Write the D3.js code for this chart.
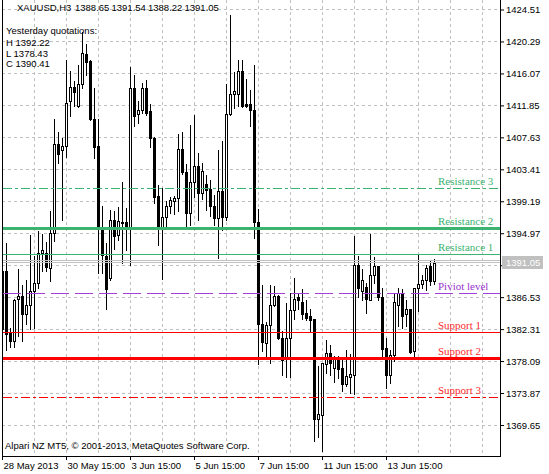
<!DOCTYPE html>
<html>
<head>
<meta charset="utf-8" />
<title>XAUUSD,H3</title>
<style>
html, body {
    padding: 0px;
    margin: 0px;
    background: #fff;
}
svg {
    display: block;
}
</style>
</head>
<body>
<div id="chart"></div>

<script src="https://cdnjs.cloudflare.com/ajax/libs/d3/7.8.5/d3.min.js"></script>
<script>
// H3 bars, 28 May 2013 15:00 .. 17 Jun 2013 03:00
var opens = [1390.0, 1390.0, 1381.8, 1380.7, 1386.3, 1386.7, 1384.3, 1385.5, 1387.4, 1388.4,
    1392.3, 1392.3, 1390.4, 1395.0, 1406.7, 1405.9, 1406.5, 1412.4, 1414.3, 1411.8,
    1414.7, 1418.7, 1417.7, 1410.0, 1406.5, 1395.6, 1392.0, 1389.1, 1396.7, 1394.7,
    1396.5, 1396.4, 1395.6, 1414.2, 1410.7, 1411.2, 1414.2, 1411.1, 1407.6, 1399.9,
    1395.6, 1397.1, 1398.5, 1399.2, 1399.6, 1406.1, 1403.1, 1397.7, 1401.8, 1403.9,
    1400.3, 1401.5, 1400.8, 1398.6, 1397.0, 1400.6, 1397.1, 1410.7, 1413.3, 1413.3,
    1416.4, 1412.0, 1412.0, 1411.3, 1396.4, 1383.0, 1380.5, 1382.8, 1385.5, 1386.7,
    1381.1, 1378.4, 1381.2, 1384.8, 1386.5, 1385.9, 1384.4, 1384.0, 1383.6, 1370.5,
    1371.0, 1377.7, 1379.2, 1377.2, 1378.3, 1377.2, 1375.1, 1376.0, 1376.2, 1390.8,
    1387.3, 1387.9, 1386.2, 1389.4, 1390.7, 1386.6, 1379.8, 1376.3, 1378.9, 1385.5,
    1387.1, 1384.3, 1384.9, 1379.4, 1387.7, 1388.3, 1388.8, 1390.6, 1388.65];
var highs = [1390.9, 1393.7, 1382.4, 1386.3, 1390.3, 1388.1, 1388.8, 1394.8, 1391.9, 1395.3,
    1394.9, 1393.8, 1397.9, 1410.0, 1408.3, 1407.6, 1417.9, 1416.4, 1415.1, 1417.2,
    1421.5, 1420.0, 1417.9, 1414.2, 1410.1, 1398.5, 1393.7, 1398.1, 1397.9, 1398.4,
    1401.7, 1398.3, 1416.9, 1415.9, 1412.4, 1414.8, 1415.2, 1412.0, 1407.7, 1401.4,
    1400.9, 1399.2, 1399.8, 1399.9, 1408.1, 1408.3, 1404.1, 1409.3, 1410.6, 1405.5,
    1404.2, 1402.7, 1402.0, 1400.0, 1406.0, 1407.2, 1414.7, 1423.8, 1416.3, 1417.8,
    1417.8, 1415.3, 1413.9, 1417.2, 1398.2, 1388.2, 1383.3, 1388.2, 1388.0, 1386.8,
    1382.0, 1385.7, 1387.1, 1389.0, 1387.1, 1387.6, 1386.2, 1384.9, 1383.7, 1377.5,
    1377.9, 1380.9, 1380.2, 1378.7, 1378.8, 1378.3, 1379.6, 1379.0, 1394.6, 1392.0,
    1390.2, 1388.4, 1394.9, 1391.8, 1390.7, 1387.7, 1381.1, 1379.6, 1387.1, 1387.7,
    1387.6, 1386.2, 1385.0, 1387.8, 1392.2, 1389.5, 1390.8, 1391.5, 1391.54];
var lows = [1381.5, 1379.5, 1380.0, 1380.0, 1381.4, 1380.8, 1383.0, 1382.3, 1382.5, 1387.7,
    1390.0, 1390.0, 1388.6, 1393.9, 1404.3, 1396.7, 1405.0, 1410.4, 1411.8, 1411.7,
    1414.1, 1415.9, 1409.9, 1404.9, 1389.7, 1389.7, 1385.0, 1388.8, 1392.9, 1394.1,
    1391.1, 1392.7, 1390.8, 1409.1, 1409.5, 1410.8, 1410.6, 1406.3, 1399.0, 1393.4,
    1388.9, 1395.9, 1397.7, 1397.5, 1397.9, 1402.8, 1395.6, 1396.0, 1399.7, 1396.7,
    1399.5, 1398.1, 1397.2, 1396.1, 1391.7, 1395.4, 1396.7, 1410.6, 1411.5, 1411.8,
    1411.7, 1411.7, 1409.1, 1394.3, 1377.7, 1379.4, 1378.3, 1377.9, 1385.4, 1381.0,
    1376.2, 1376.0, 1376.0, 1383.6, 1384.9, 1383.6, 1383.5, 1381.9, 1367.5, 1368.1,
    1366.2, 1376.5, 1376.3, 1375.3, 1375.9, 1374.1, 1374.8, 1373.9, 1373.8, 1386.6,
    1386.2, 1384.4, 1386.2, 1388.4, 1386.2, 1378.7, 1374.5, 1375.2, 1378.1, 1382.7,
    1382.5, 1382.7, 1379.2, 1378.4, 1384.7, 1387.7, 1387.5, 1388.2, 1388.22];
var closes = [1382.3, 1381.7, 1380.8, 1386.2, 1386.7, 1384.3, 1385.5, 1387.4, 1388.4, 1392.4,
    1392.7, 1390.5, 1395.0, 1406.7, 1405.4, 1406.5, 1412.1, 1414.3, 1413.6, 1414.7,
    1418.8, 1417.6, 1410.0, 1406.3, 1395.7, 1392.1, 1387.6, 1396.7, 1394.6, 1396.6,
    1396.3, 1395.7, 1414.2, 1410.4, 1411.2, 1414.2, 1410.8, 1407.6, 1399.8, 1395.6,
    1397.1, 1398.6, 1399.3, 1399.6, 1406.1, 1403.1, 1397.7, 1401.8, 1403.9, 1400.3,
    1403.2, 1400.7, 1398.5, 1397.0, 1400.5, 1397.1, 1410.7, 1413.4, 1413.7, 1416.4,
    1411.8, 1411.8, 1411.3, 1396.4, 1383.0, 1380.6, 1382.8, 1385.5, 1386.7, 1381.1,
    1378.2, 1381.2, 1384.8, 1386.3, 1386.1, 1384.3, 1383.8, 1383.5, 1370.5, 1371.1,
    1377.8, 1379.2, 1377.9, 1378.3, 1377.1, 1375.1, 1376.1, 1376.4, 1390.8, 1387.7,
    1388.8, 1386.3, 1389.4, 1390.7, 1386.6, 1379.7, 1376.3, 1378.9, 1385.9, 1387.1,
    1384.1, 1384.9, 1379.3, 1387.7, 1388.3, 1388.8, 1390.4, 1388.6, 1391.05];

var timeLabels = ["28 May 2013", "30 May 15:00", "3 Jun 15:00", "5 Jun 15:00",
    "7 Jun 15:00", "11 Jun 15:00", "13 Jun 15:00"];
var timeLabelBars = [0, 16, 32, 48, 64, 80, 96];
var gridBars = [8, 16, 24, 32, 40, 48, 56, 64, 72, 80, 88, 96, 104, 112, 120];

var priceTicks = [1424.51, 1420.29, 1416.07, 1411.85, 1407.63, 1403.41, 1399.19,
    1394.97, 1390.75, 1386.53, 1382.31, 1378.09, 1373.87, 1369.65];

var levelNames = ["Resistance 3", "Resistance 2", "Resistance 1", "Piviot level",
    "Support 1", "Support 2", "Support 3"];
var levelValues = [1400.81, 1395.61, 1392.22, 1387.02, 1381.82, 1378.43, 1373.23];

var yesterdayNames = ["H", "L", "C"];
var yesterdayValues = [1392.22, 1378.43, 1390.41];

var symbolName = "XAUUSD,H3";
var bidPrice = 1391.05;
var askPrice = 1391.43;

!(function(){
    "use strict"

    var W = 549, H = 474;
    var left = 2, right = 500, bottom = 456;

    var levelStyle = [
        {color: "#3cb371", width: 1, dash: [9, 3, 3, 3], text: "#3cb371"},
        {color: "#3cb371", width: 3, dash: null, text: "#3cb371"},
        {color: "#3cb371", width: 1, dash: null, text: "#3cb371"},
        {color: "#a040d8", width: 1, dash: [18, 6], text: "#9932cc"},
        {color: "#ff0000", width: 1, dash: null, text: "#ff2a2a"},
        {color: "#ff0000", width: 3, dash: null, text: "#ff2a2a"},
        {color: "#ff0000", width: 1, dash: [9, 3, 3, 3], text: "#ff2a2a"}
    ];

    function hasFont(name) {
        var c = document.createElement("canvas").getContext("2d");
        c.font = "20px monospace";
        var w0 = c.measureText("1424.51 XAUUSD").width;
        c.font = "20px \"" + name + "\", monospace";
        return c.measureText("1424.51 XAUUSD").width !== w0;
    }

    var narrow = hasFont("Liberation Sans Narrow");
    var sans = narrow ? "'Liberation Sans Narrow', 'Liberation Sans', sans-serif" : "'Liberation Sans', Arial, sans-serif";
    var sansSize = narrow ? "11px" : "9.5px";
    var serif = "'Liberation Serif', 'Times New Roman', serif";

    var x = d3.scaleLinear().domain([0, 1]).range([2, 6]);
    var y = d3.scaleLinear().domain([1424.51, 1369.65]).range([9.5, 425]);

    function py(v) { return Math.round(y(v) - 0.5) + 0.5; }

    var bars = opens.map(function(o, i) {
        return {i: i, o: o, h: highs[i], l: lows[i], c: closes[i]};
    });

    // one piece per dash of a level line (solid lines give one piece)
    var pieces = [];
    levelValues.forEach(function(v, k) {
        var st = levelStyle[k];
        var top = Math.round(y(v) - st.width / 2);
        if (!st.dash) {
            pieces.push({k: k, x0: left, x1: right, y: top, h: st.width});
            return;
        }
        var pos = left + 1, n = 0;
        while (pos < right) {
            var len = st.dash[n % st.dash.length];
            if (n % 2 === 0) pieces.push({k: k, x0: pos, x1: Math.min(pos + len, right), y: top, h: st.width});
            pos += len;
            n++;
        }
    });

    var svg = d3.select("#chart").append("svg")
        .attr("width", W)
        .attr("height", H)
        .style("font-family", sans)
        .style("font-size", sansSize);

    svg.append("rect").attr("width", W).attr("height", H).attr("fill", "#fff");

    svg.append("clipPath").attr("id", "plot")
        .append("rect")
        .attr("x", left + 1).attr("y", 0)
        .attr("width", right - left - 1).attr("height", bottom);

    var plot = svg.append("g").attr("clip-path", "url(#plot)");

    // grid
    plot.append("g").selectAll("line.h")
        .data(priceTicks)
        .enter().append("line")
        .attr("x1", left).attr("x2", right)
        .attr("y1", py).attr("y2", py)
        .attr("stroke", "#c0c0c0")
        .attr("stroke-dasharray", "3,3")
        .attr("shape-rendering", "crispEdges");

    plot.append("g").selectAll("line.v")
        .data(gridBars)
        .enter().append("line")
        .attr("x1", function(d){ return x(d) + 0.5; })
        .attr("x2", function(d){ return x(d) + 0.5; })
        .attr("y1", 0).attr("y2", bottom)
        .attr("stroke", "#c0c0c0")
        .attr("stroke-dasharray", "3,3")
        .attr("shape-rendering", "crispEdges");

    // candles
    var cg = plot.append("g").attr("shape-rendering", "crispEdges");
    var candle = cg.selectAll("g").data(bars).enter().append("g");

    candle.append("rect")
        .attr("x", function(d){ return x(d.i); })
        .attr("y", function(d){ return Math.round(y(d.h)); })
        .attr("width", 1)
        .attr("height", function(d){ return Math.round(y(d.l)) - Math.round(y(d.h)) + 1; })
        .attr("fill", "#000");

    candle.append("rect")
        .each(function(d) {
            var top = Math.round(y(Math.max(d.o, d.c)));
            var bot = Math.round(y(Math.min(d.o, d.c)));
            var r = d3.select(this);
            if (d.c >= d.o) {
                r.attr("x", x(d.i) - 0.5).attr("y", top + 0.5)
                    .attr("width", 2).attr("height", Math.max(bot - top, 0))
                    .attr("fill", "#fff").attr("stroke", "#000").attr("stroke-width", 1);
            } else {
                r.attr("x", x(d.i) - 1).attr("y", top)
                    .attr("width", 3).attr("height", bot - top + 1)
                    .attr("fill", "#000");
            }
        });

    // bid / ask lines
    plot.append("g").selectAll("line")
        .data([askPrice, bidPrice])
        .enter().append("line")
        .attr("x1", left).attr("x2", right)
        .attr("y1", py).attr("y2", py)
        .attr("stroke", "#c0c0c0")
        .attr("shape-rendering", "crispEdges");

    // pivot levels
    var lg = plot.append("g");
    lg.append("g").attr("shape-rendering", "crispEdges")
        .selectAll("rect")
        .data(pieces)
        .enter().append("rect")
        .attr("x", function(d){ return d.x0; })
        .attr("y", function(d){ return d.y; })
        .attr("width", function(d){ return d.x1 - d.x0; })
        .attr("height", function(d){ return d.h; })
        .attr("fill", function(d){ return levelStyle[d.k].color; });

    lg.selectAll("text")
        .data(levelValues)
        .enter().append("text")
        .attr("x", x(109))
        .attr("y", function(d){ return py(d) - 4; })
        .attr("fill", function(d, i){ return levelStyle[i].text; })
        .style("font-family", serif)
        .style("font-size", "11px")
        .text(function(d, i){ return levelNames[i]; });

    // frame
    svg.append("path")
        .attr("d", "M" + (left + 0.5) + ",0V" + (bottom + 0.5) + "H" + (right + 0.5) + "V0")
        .attr("fill", "none")
        .attr("stroke", "#000")
        .attr("shape-rendering", "crispEdges");

    // price axis; the label hidden under the price tag is left out
    var yAxis = svg.append("g")
        .attr("transform", "translate(" + right + ",0)")
        .call(d3.axisRight(y).tickValues(priceTicks).tickSize(4).tickPadding(2)
            .tickFormat(function(d) {
                return Math.abs(y(d) - y(bidPrice)) < 10 ? "" : d3.format(".2f")(d);
            }));
    yAxis.select(".domain").remove();
    yAxis.selectAll("text").style("font-family", sans).style("font-size", sansSize).attr("fill", "#000");
    yAxis.selectAll("line").attr("stroke", "#000");

    // current price tag
    var tag = svg.append("g").attr("transform", "translate(0," + py(bidPrice) + ")");
    tag.append("rect")
        .attr("x", right + 2).attr("y", -6.5)
        .attr("width", 41).attr("height", 13)
        .attr("fill", "#c0c0c0");
    tag.append("text")
        .attr("x", right + 6).attr("dy", "0.32em")
        .attr("fill", "#fff")
        .text(d3.format(".2f")(bidPrice));

    // time axis
    var xAxis = svg.append("g")
        .attr("transform", "translate(0," + bottom + ")")
        .call(d3.axisBottom(x).tickValues(timeLabelBars).tickSize(4).tickPadding(2)
            .tickFormat(function(d, i){ return timeLabels[i]; }));
    xAxis.select(".domain").remove();
    xAxis.selectAll("text")
        .attr("text-anchor", "start").attr("x", 1)
        .style("font-family", sans).style("font-size", sansSize).attr("fill", "#000");
    xAxis.selectAll("line").attr("stroke", "#000");

    // header
    var head = [symbolName].concat([opens[108], highs[108], lows[108], closes[108]].map(d3.format(".2f")));
    svg.append("g").selectAll("text")
        .data(head)
        .enter().append("text")
        .attr("x", function(d, i){ return i === 0 ? 17 : 75 + (i - 1) * 36.5; })
        .attr("y", 11)
        .attr("fill", "#000")
        .text(function(d){ return d; });

    var info = ["Yesterday quotations:"].concat(yesterdayValues.map(function(v, i) {
        return yesterdayNames[i] + " " + d3.format(".2f")(v);
    }));
    svg.append("g").selectAll("text")
        .data(info)
        .enter().append("text")
        .attr("x", 6)
        .attr("y", function(d, i){ return i === 0 ? 34 : 46 + (i - 1) * 10.7; })
        .attr("fill", "#000")
        .text(function(d){ return d; });

    svg.append("text")
        .attr("x", 5).attr("y", 449)
        .attr("fill", "#000")
        .text("Alpari NZ MT5, \u00a9 2001-2013, MetaQuotes Software Corp.");

}());
</script>
</body>
</html>
